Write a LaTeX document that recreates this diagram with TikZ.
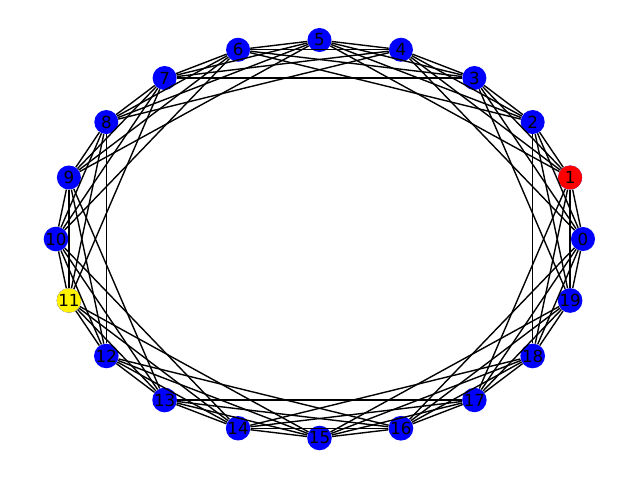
\documentclass[tikz,border=0pt]{standalone}
\usepackage{fontspec}
\setmainfont{DejaVu Sans}
\usepackage{tikz}

\begin{document}
\begin{tikzpicture}[x=0.72pt,y=-0.72pt,
  vertex/.style={circle,fill=blue,inner sep=0pt,minimum size=17.3pt,
    font=\fontsize{12}{14}\selectfont},
  link/.style={draw=black,line width=1pt}]
\useasboundingbox [fill=white] (0,0) rectangle (640,480);
\foreach \i in {0,...,19} {
  \node [vertex] (v\i) at ({319.5+263.5*cos(18*\i)},{239-199*sin(18*\i)}) {\i};
}
\node [vertex,fill=red] at (v1) {1};
\node [vertex,fill=yellow] at (v11) {11};
\foreach \i in {0,...,19}
  \foreach \k in {1,...,4} {
    \pgfmathtruncatemacro{\j}{mod(\i+\k,20)}
    \draw [link] (v\i) -- (v\j);
  }
\end{tikzpicture}
\end{document}
